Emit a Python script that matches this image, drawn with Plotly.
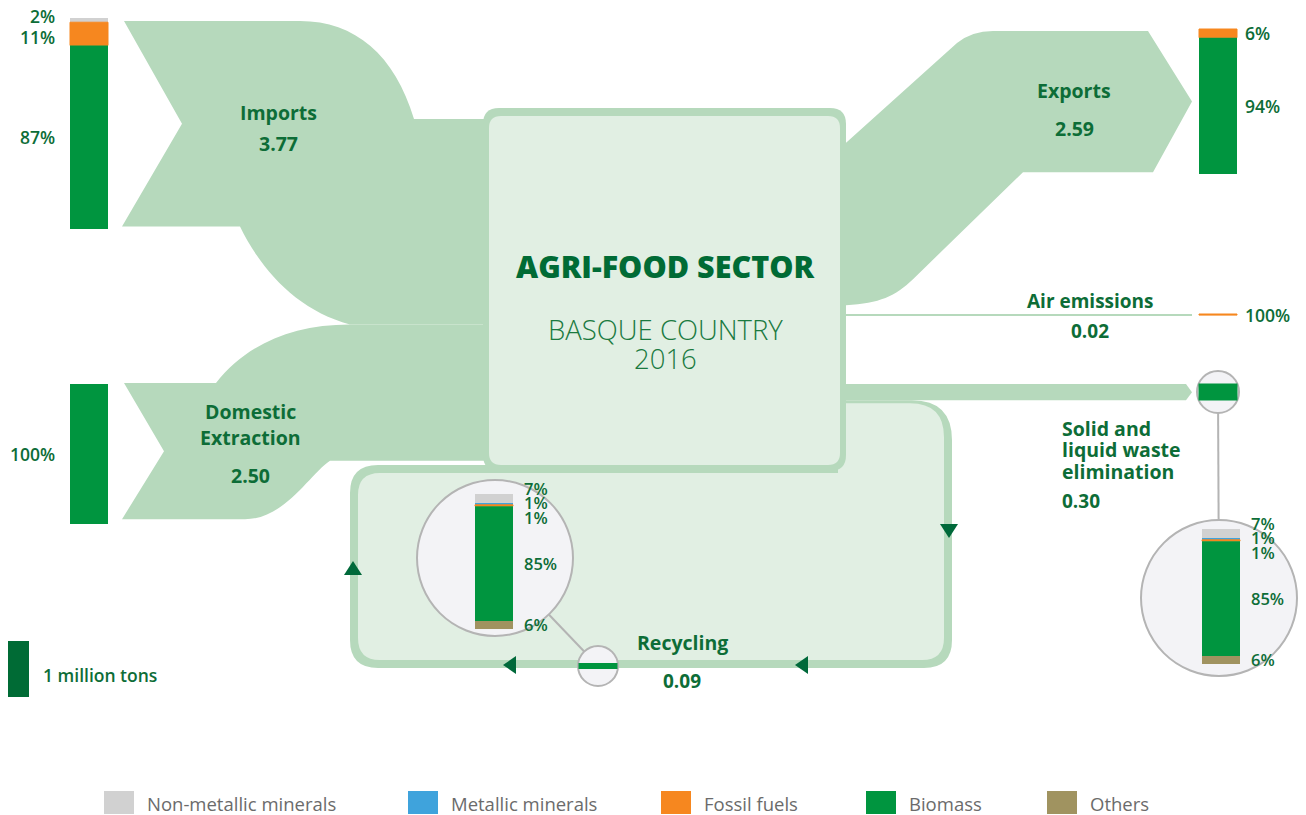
import plotly.graph_objects as go

# ---------------- data ----------------
CATEGORIES = ["Non-metallic minerals", "Metallic minerals", "Fossil fuels", "Biomass", "Others"]
CATEGORY_COLORS = ["#d1d1d1", "#3fa3dc", "#f6871f", "#00953f", "#a09360"]

FLOW_NAMES = ["Imports", "Domestic Extraction", "Exports", "Air emissions",
              "Solid and liquid waste elimination", "Recycling"]
FLOW_VALUES = [3.77, 2.50, 2.59, 0.02, 0.30, 0.09]   # million tons

IMPORTS_PCT = [2, 0, 11, 87, 0]
DOMESTIC_PCT = [0, 0, 0, 100, 0]
EXPORTS_PCT = [0, 0, 6, 94, 0]
AIR_PCT = [0, 0, 100, 0, 0]
WASTE_PCT = [7, 1, 1, 85, 6]
RECYCLING_PCT = [7, 1, 1, 85, 6]

SCALE_REFERENCE = 1.0   # "1 million tons"
SECTOR_TITLE = "AGRI-FOOD SECTOR"
SECTOR_SUB = ["BASQUE COUNTRY", "2016"]

# ---------------- style / layout ----------------
W, H = 1306, 815
S_BAR = 56.0      # px per million tons (stacked bars)
S_FLOW = 54.5     # px per million tons (flows)
MAG_H = 135.0     # height of magnified bars
FONT = "Open Sans"
DG = "#0d6d37"
FLOW_C = "#b6d9bc"
BOX_FILL = "#e1efe3"
CIRC_FILL = "#f3f3f6"
CIRC_LINE = "#b4b4b4"
ARROW_C = "#00693a"

V = dict(zip(FLOW_NAMES, FLOW_VALUES))

shapes = []
annotations = []


def add_path(d, fill, layer="below"):
    shapes.append(dict(type="path", path=d, fillcolor=fill, line=dict(width=0),
                       layer=layer, xref="x", yref="y"))


def rrect(x0, y0, x1, y1, r):
    return (f"M {x0+r},{y0} L {x1-r},{y0} Q {x1},{y0} {x1},{y0+r} L {x1},{y1-r} "
            f"Q {x1},{y1} {x1-r},{y1} L {x0+r},{y1} Q {x0},{y1} {x0},{y1-r} "
            f"L {x0},{y0+r} Q {x0},{y0} {x0+r},{y0} Z")


def text(x, y, s, size=18, color=DG, bold=True, xanchor="center", weight=None):
    annotations.append(dict(x=x, y=y, xref="x", yref="y", text=s, showarrow=False,
                            xanchor=xanchor, yanchor="middle",
                            font=dict(family=FONT, size=size, color=color,
                                      weight=weight if weight else (700 if bold else 400))))


# ---------------- flows ----------------
h_imp = V["Imports"] * S_FLOW
h_dom = V["Domestic Extraction"] * S_FLOW
h_exp = V["Exports"] * S_FLOW
h_air = V["Air emissions"] * S_FLOW
h_wst = V["Solid and liquid waste elimination"] * S_FLOW

imp_t = 21
imp_b = imp_t + h_imp
box_in_t = 119
yj = box_in_t + h_imp
yb = yj + h_dom
add_path(f"M 124,{imp_t} L 300,{imp_t} C 355,{imp_t} 395,{imp_t+34} 414,{box_in_t} "
         f"L 495,{box_in_t} L 495,{yj} L 350,{yj} C 298,{yj-14} 262,{imp_b+45} 240,{imp_b} "
         f"L 122,{imp_b} L 182,{imp_t+h_imp/2} Z", FLOW_C)

dom_t = 383
dom_b = dom_t + h_dom
add_path(f"M 124,{dom_t} L 216,{dom_t} C 245,{dom_t-37} 290,{yj} 350,{yj} L 495,{yj} "
         f"L 495,{yb} L 330,{yb} C 310,{yb+13} 285,{dom_b} 245,{dom_b} L 122,{dom_b} "
         f"L 164,{dom_t+h_dom/2} Z", FLOW_C)

ex_t = 31
ex_b = ex_t + h_exp
add_path(f"M 838,150 L 957,{ex_t+12} Q 972,{ex_t} 993,{ex_t} L 1148,{ex_t} L 1192,{ex_t+h_exp/2} "
         f"L 1153,{ex_b} L 1023,{ex_b} L 913,{ex_b+107} C 895,{ex_b+124} 880,{ex_b+131} 846,{ex_b+133} "
         f"L 838,{ex_b+133} Z", FLOW_C)

air_y = 315
shapes.append(dict(type="line", x0=840, x1=1192, y0=air_y, y1=air_y, xref="x", yref="y",
                   line=dict(color=FLOW_C, width=max(2, h_air)), layer="below"))

w_t = 384
w_b = w_t + h_wst
add_path(f"M 838,{w_t} L 1186,{w_t} L 1192,{w_t+h_wst/2} L 1186,{w_b} L 838,{w_b} Z", FLOW_C)

# recycling loop
lt = w_b
add_path(f"M 838,{lt} L 912,{lt} Q 952,{lt} 952,{lt+40} L 952,640 Q 952,668 924,668 "
         f"L 378,668 Q 350,668 350,640 L 350,493 Q 350,465 378,465 L 838,465 Z", FLOW_C)
add_path(f"M 838,{lt+3} L 910,{lt+3} Q 944,{lt+3} 944,{lt+37} L 944,638 Q 944,660 922,660 "
         f"L 380,660 Q 358,660 358,638 L 358,495 Q 358,473 380,473 L 838,473 Z", BOX_FILL)

# central box
add_path(rrect(483, 108, 846, 471, 16), FLOW_C)
add_path(rrect(489, 116, 840, 465, 12), BOX_FILL)

# arrows
add_path("M 940,524 L 958,524 L 949,538 Z", ARROW_C)
add_path("M 808,656 L 808,674 L 795,665 Z", ARROW_C)
add_path("M 516,656 L 516,674 L 503,665 Z", ARROW_C)
add_path("M 344,575 L 362,575 L 353,561 Z", ARROW_C)


# magnifier circles
def circle(cx, cy, r):
    shapes.append(dict(type="circle", x0=cx-r, x1=cx+r, y0=cy-r, y1=cy+r, xref="x", yref="y",
                       fillcolor=CIRC_FILL, line=dict(color=CIRC_LINE, width=2), layer="below"))


def connector(c1, r1, c2, r2):
    dx, dy = c2[0]-c1[0], c2[1]-c1[1]
    d = (dx*dx+dy*dy) ** 0.5
    ux, uy = dx/d, dy/d
    shapes.append(dict(type="line", x0=c1[0]+ux*r1, y0=c1[1]+uy*r1,
                       x1=c2[0]-ux*r2, y1=c2[1]-uy*r2, xref="x", yref="y",
                       line=dict(color=CIRC_LINE, width=2), layer="below"))


REC_BIG, REC_SMALL = (495, 558), (598, 666)
WST_BIG, WST_SMALL = (1219, 598), (1218, 392)
connector(REC_BIG, 78, REC_SMALL, 20)
connector(WST_SMALL, 21, WST_BIG, 78)
circle(*REC_BIG, 78)
circle(*REC_SMALL, 20)
circle(*WST_BIG, 78)
circle(*WST_SMALL, 21)

# ---------------- stacked bars ----------------
segs = {c: dict(x=[], base=[], y=[], w=[]) for c in CATEGORIES}


def spread(mids, gap):
    clusters = [[i] for i in range(len(mids))]

    def center(cl):
        return sum(mids[i] for i in cl) / len(cl)
    merged = True
    while merged:
        merged = False
        for k in range(len(clusters)-1):
            a, b = clusters[k], clusters[k+1]
            a_end = center(a) + (len(a)-1)*gap/2
            b_start = center(b) - (len(b)-1)*gap/2
            if b_start - a_end < gap:
                clusters[k] = a + b
                del clusters[k+1]
                merged = True
                break
    pos = []
    for cl in clusters:
        c = center(cl)
        for k in range(len(cl)):
            pos.append(c - (len(cl)-1)*gap/2 + k*gap)
    return pos


def stack(xc, top, total_px, pcts, width, lab_x, lab_anchor, size, gap, weight=600):
    cum = top
    mids, labels = [], []
    for cat, p in zip(CATEGORIES, pcts):
        if p <= 0:
            continue
        h = total_px * p / 100.0
        s = segs[cat]
        s["x"].append(xc); s["base"].append(cum); s["y"].append(h); s["w"].append(width)
        mids.append(cum + h/2)
        labels.append(f"{p}%")
        cum += h
    for y, lab in zip(spread(mids, gap), labels):
        text(lab_x, y, lab, size=size, xanchor=lab_anchor, weight=weight)


stack(89, 18, V["Imports"]*S_BAR, IMPORTS_PCT, 38, 57, "right", 17.5, 21)
stack(89, 384, V["Domestic Extraction"]*S_BAR, DOMESTIC_PCT, 38, 57, "right", 17.5, 21)
stack(1218, 29, V["Exports"]*S_BAR, EXPORTS_PCT, 38, 1243, "left", 17.5, 21)
stack(1218, air_y - 1, V["Air emissions"]*S_BAR, AIR_PCT, 38, 1243, "left", 17.5, 21)
stack(494, 494, MAG_H, RECYCLING_PCT, 38, 522, "left", 16.5, 14.5, weight=600)
stack(1221, 529, MAG_H, WASTE_PCT, 38, 1249, "left", 16.5, 14.5, weight=600)

fig = go.Figure()
for cat, col in zip(CATEGORIES, CATEGORY_COLORS):
    s = segs[cat]
    if not s["x"]:
        continue
    fig.add_trace(go.Bar(x=s["x"], y=s["y"], base=s["base"], width=s["w"],
                         marker=dict(color=col, line=dict(color=col, width=1 if cat == "Fossil fuels" else 0)),
                         orientation="v", hoverinfo="skip", showlegend=False, name=cat))

# bands inside the small magnifier circles
bio = CATEGORY_COLORS[CATEGORIES.index("Biomass")]
for (cx, cy), val in [(WST_SMALL, V["Solid and liquid waste elimination"]), (REC_SMALL, V["Recycling"])]:
    h = max(val * S_BAR, 6)
    fig.add_trace(go.Bar(x=[cx], y=[h], base=[cy - h/2], width=[39], marker=dict(color=bio, line=dict(width=0)),
                         hoverinfo="skip", showlegend=False))

# scale reference bar
fig.add_trace(go.Bar(x=[18.5], y=[SCALE_REFERENCE*S_BAR], base=[641], width=[21],
                     marker=dict(color="#006b35", line=dict(width=0)), hoverinfo="skip", showlegend=False))
text(41, 675, "1 million tons", size=17.5, xanchor="left", weight=600)

# ---------------- labels ----------------
text(278, 112, "Imports", 19.5)
text(278, 143, f"{V['Imports']:.2f}", 19.5)
text(250, 411, "Domestic", 19.5)
text(250, 437, "Extraction", 19.5)
text(250, 475, f"{V['Domestic Extraction']:.2f}", 19.5)
text(1074, 90, "Exports", 19.5)
text(1074, 128, f"{V['Exports']:.2f}", 19.5)
text(1090, 301, "Air emissions", 19)
text(1090, 331, f"{V['Air emissions']:.2f}", 19)
for y, s in zip([428, 449, 471], ["Solid and", "liquid waste", "elimination"]):
    text(1060, y, s, 19.5, xanchor="left")
text(1060, 501, f"{V['Solid and liquid waste elimination']:.2f}", 19, xanchor="left")
text(682, 642, "Recycling", 19.5)
text(682, 681, f"{V['Recycling']:.2f}", 19)

text(665, 266, SECTOR_TITLE, 30.5, color="#006b35", weight=800)
text(665, 329, SECTOR_SUB[0], 27.5, color="#1a7a3f", weight=300)
text(665, 358, SECTOR_SUB[1], 27.5, color="#1a7a3f", weight=300)

# legend
LEG_X = [104, 408, 661, 866, 1047]
for lx, cat, col in zip(LEG_X, CATEGORIES, CATEGORY_COLORS):
    shapes.append(dict(type="rect", x0=lx, x1=lx+30, y0=791, y1=814, xref="x", yref="y",
                       fillcolor=col, line=dict(width=0), layer="below"))
    text(lx + 41, 803, cat, 18.5, color="#6b6b6b", xanchor="left", weight=400)

fig.update_layout(
    width=W, height=H, autosize=False,
    margin=dict(l=0, r=0, t=0, b=0),
    paper_bgcolor="white", plot_bgcolor="white",
    barmode="overlay", showlegend=False,
    xaxis=dict(range=[0, W], visible=False, fixedrange=True),
    yaxis=dict(range=[H, 0], visible=False, fixedrange=True),
    shapes=shapes, annotations=annotations,
)

fig.write_html("out.html", config={"displayModeBar": False},
               post_script="document.body.style.margin='0';document.body.style.overflow='hidden';")
